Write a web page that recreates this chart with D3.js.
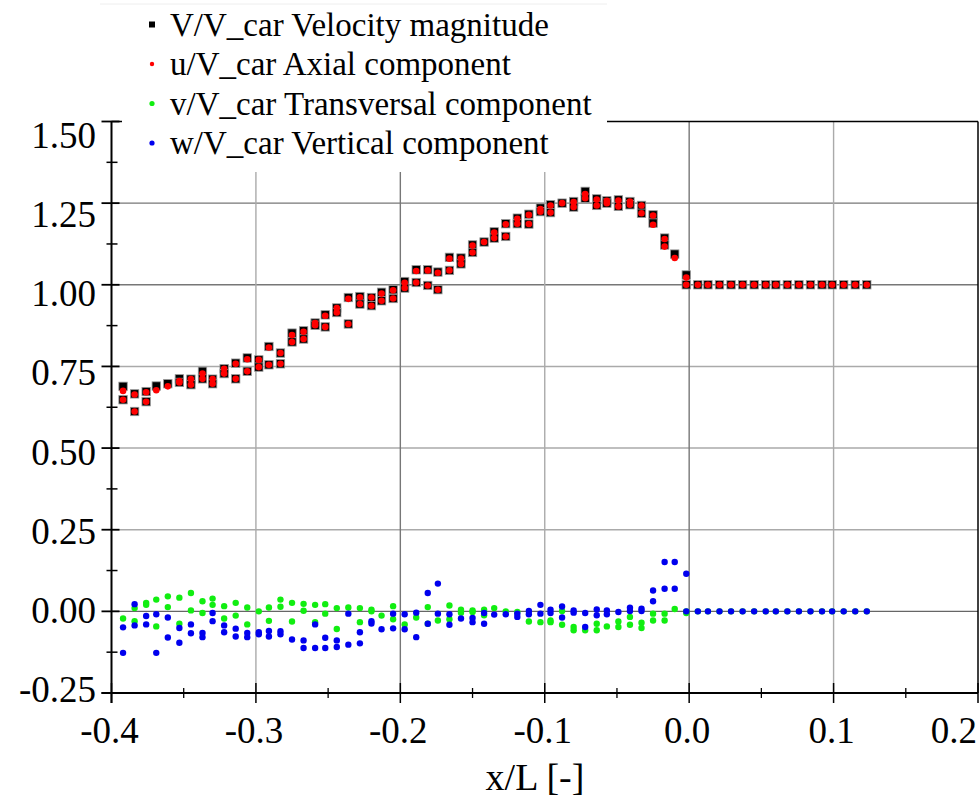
<!DOCTYPE html>
<html>
<head>
<meta charset="utf-8">
<script src="https://cdn.jsdelivr.net/npm/d3@7"></script>
<style>
	body { margin: 0; background: #fff; }
	svg { display: block; font-family: "Liberation Serif", "DejaVu Serif", serif; }
</style>
</head>
<body>
<div id="chart"></div>
<script>
// x/L positions of the probe columns
const xPos = [
	-0.392, -0.384, -0.376, -0.369, -0.361, -0.353, -0.345, -0.337, -0.330, -0.322,
	-0.314, -0.306, -0.298, -0.291, -0.283, -0.275, -0.267, -0.259, -0.252, -0.244,
	-0.236, -0.228, -0.220, -0.213, -0.205, -0.197, -0.189, -0.181, -0.174, -0.166,
	-0.158, -0.150, -0.142, -0.135, -0.127, -0.119, -0.111, -0.103, -0.096, -0.088,
	-0.080, -0.072, -0.064, -0.057, -0.049, -0.041, -0.033, -0.025, -0.017, -0.010,
	-0.002, 0.006, 0.013, 0.021, 0.029, 0.037, 0.045, 0.053, 0.060, 0.068,
	0.076, 0.084, 0.092, 0.099, 0.107, 0.115, 0.123
];

// V/V_car, two probe rows
const magA = [
	0.689, 0.666, 0.673, 0.690, 0.697, 0.712, 0.711, 0.735, 0.711, 0.743,
	0.760, 0.776, 0.770, 0.811, 0.791, 0.852, 0.859, 0.883, 0.908, 0.929,
	0.961, 0.964, 0.961, 0.977, 0.985, 1.010, 1.046, 1.046, 1.039, 1.084,
	1.082, 1.122, 1.131, 1.162, 1.187, 1.204, 1.216, 1.235, 1.245, 1.250,
	1.255, 1.286, 1.263, 1.257, 1.260, 1.255, 1.243, 1.214, 1.143, 1.094,
	1.030, 1.000, 1.000, 1.000, 1.000, 1.000, 1.000, 1.000, 1.000, 1.000,
	1.000, 1.000, 1.000, 1.000, 1.000, 1.000, 1.000
];
const magB = [
	0.648, 0.612, 0.642, null, null, 0.701, 0.694, 0.712, 0.697, 0.728,
	0.712, 0.735, 0.748, 0.755, 0.758, 0.825, 0.834, 0.876, 0.871, 0.915,
	0.880, 0.941, 0.936, 0.951, 0.958, 0.990, 1.007, 0.998, 0.985, 1.044,
	1.064, 1.099, null, 1.143, 1.148, 1.187, 1.186, 1.224, 1.221, null,
	1.238, 1.265, 1.243, 1.250, 1.240, 1.245, 1.219, 1.189, 1.122, null,
	1.000, null, null, null, null, null, null, null, null, null,
	null, null, null, null, null, null, null
];

// u/V_car axial component
const axA = [
	0.675, 0.664, 0.671, 0.677, 0.689, 0.705, 0.711, 0.728, 0.711, 0.743,
	0.758, 0.772, 0.770, 0.808, 0.791, 0.846, 0.856, 0.883, 0.905, 0.929,
	0.957, 0.962, 0.961, 0.973, 0.983, 1.006, 1.042, 1.044, 1.037, 1.080,
	1.080, 1.120, 1.131, 1.160, 1.185, 1.202, 1.214, 1.232, 1.243, 1.250,
	1.253, 1.278, 1.261, 1.257, 1.258, 1.255, 1.243, 1.212, 1.140, 1.082,
	1.022, 1.000, 1.000, 1.000, 1.000, 1.000, 1.000, 1.000, 1.000, 1.000,
	1.000, 1.000, 1.000, 1.000, 1.000, 1.000, 1.000
];
const axB = [
	0.648, 0.612, 0.642, null, null, 0.701, 0.694, 0.712, 0.697, 0.728,
	0.712, 0.735, 0.748, 0.755, 0.758, 0.825, 0.834, 0.876, 0.871, 0.915,
	0.880, 0.941, 0.936, 0.951, 0.958, 0.990, 1.007, 0.998, 0.985, 1.044,
	1.064, 1.099, null, 1.143, 1.148, 1.187, 1.186, 1.224, 1.221, null,
	1.238, 1.265, 1.243, 1.250, 1.240, 1.245, 1.219, 1.184, 1.117, null,
	1.000, null, null, null, null, null, null, null, null, null,
	null, null, null, null, null, null, null
];

// v/V_car transversal component
const transA = [
	-0.022, 0.010, 0.026, 0.036, 0.046, 0.042, 0.056, 0.031, 0.039, 0.016,
	0.026, 0.012, 0.000, 0.012, 0.036, 0.026, 0.023, 0.020, 0.022, 0.010,
	0.012, 0.010, 0.005, -0.013, 0.016, -0.040, -0.019, 0.013, -0.028, 0.018,
	0.005, 0.003, 0.005, 0.010, 0.000, -0.002, -0.031, -0.033, -0.028, 0.001,
	-0.048, -0.058, -0.038, -0.046, -0.031, -0.017, -0.035, -0.007, -0.007, 0.007,
	-0.005, 0.000, 0.000, 0.000, 0.000, 0.000, 0.000, 0.000, 0.000, 0.000,
	0.000, 0.000, 0.000, 0.000, 0.000, 0.000, 0.000
];
const transB = [
	null, -0.030, 0.020, -0.046, 0.013, -0.038, 0.003, -0.005, 0.020, -0.022,
	-0.013, -0.040, null, -0.029, 0.014, -0.031, 0.002, -0.033, -0.007, -0.054,
	null, -0.033, 0.000, null, -0.024, null, null, -0.038, null, -0.024,
	-0.004, -0.002, -0.012, null, null, null, null, null, -0.033, -0.041,
	-0.058, null, -0.058, null, -0.048, -0.041, -0.051, -0.028, -0.028, null,
	0.000, null, null, null, null, null, null, null, null, null,
	null, null, null, null, null, null, null
];

// w/V_car vertical component
const vertA = [
	-0.049, 0.022, -0.014, -0.009, -0.019, -0.051, -0.040, -0.066, -0.005, -0.043,
	-0.053, -0.066, -0.064, -0.060, -0.061, -0.086, -0.089, -0.040, -0.081, -0.089,
	-0.007, -0.064, -0.030, -0.055, -0.007, -0.009, -0.004, 0.056, 0.085, -0.009,
	-0.022, -0.020, -0.005, -0.010, -0.009, -0.007, 0.001, 0.020, 0.005, 0.015,
	0.003, -0.005, 0.006, 0.003, -0.002, 0.011, 0.008, 0.064, 0.151, 0.151,
	0.115, 0.000, 0.000, 0.000, 0.000, 0.000, 0.000, 0.000, 0.000, 0.000,
	0.000, 0.000, 0.000, 0.000, 0.000, 0.000, 0.000
];
const vertB = [
	-0.127, -0.043, -0.040, -0.127, -0.080, -0.096, -0.067, -0.079, -0.030, -0.064,
	-0.077, -0.079, -0.070, -0.077, -0.070, null, -0.112, -0.112, -0.112, -0.109,
	-0.102, -0.098, -0.037, null, -0.052, -0.055, -0.079, -0.038, -0.007, -0.041,
	null, -0.033, -0.038, null, null, -0.017, -0.009, -0.007, -0.005, -0.019,
	-0.004, -0.048, -0.012, -0.009, null, 0.001, 0.001, 0.031, 0.069, 0.069,
	0.000, null, null, null, null, null, null, null, null, null,
	null, null, null, null, null, null, null
];

// axis ticks and legend text
const xTicks = [-0.4, -0.3, -0.2, -0.1, 0.0, 0.1, 0.2];
const yTicks = [1.50, 1.25, 1.00, 0.75, 0.50, 0.25, 0.00, -0.25];
const legendLabels = [
	"V/V_car Velocity magnitude",
	"u/V_car Axial component",
	"v/V_car Transversal component",
	"w/V_car Vertical component"
];

const width = 980, height = 800;

// plain hyphen for negative labels, like the original
const locale = d3.formatLocale({ decimal: ".", thousands: ",", grouping: [3], currency: ["", ""], minus: "-" });

const svg = d3.select("#chart").append("svg")
	.attr("width", width)
	.attr("height", height);

// scales
const x = d3.scaleLinear().domain([-0.4, 0.2]).range([111.5, 978]);
const y = d3.scaleLinear().domain([-0.25, 1.5]).range([693, 121.5]);
// the y labels sit a little off their ticks in the original
const yLabel = d3.scaleLinear().domain([1.5, -0.25]).range([136, 690]);

// points from two probe rows
function points(rowA, rowB) {
	const pts = [];
	xPos.forEach((xv, i) => {
		if (rowA[i] != null) pts.push({ x: xv, v: rowA[i] });
		if (rowB[i] != null) pts.push({ x: xv, v: rowB[i] });
	});
	return pts;
}

// grid
const grid = svg.append("g");
grid.selectAll(".hgrid")
	.data(yTicks.filter(d => d > -0.25 && d < 1.5))
	.enter().append("line")
	.attr("x1", x(-0.4)).attr("x2", x(0.2))
	.attr("y1", d => y(d)).attr("y2", d => y(d))
	.attr("stroke", d => d === 0 ? "#666" : (d >= 1 ? "#777" : "#aaa"))
	.attr("stroke-width", 1.4);
grid.selectAll(".vgrid")
	.data(xTicks.filter(d => d > -0.4 && d < 0.2))
	.enter().append("line")
	.attr("x1", d => x(d)).attr("x2", d => x(d))
	.attr("y1", y(1.5)).attr("y2", y(-0.25))
	.attr("stroke", d => (d === -0.2 || d === 0) ? "#777" : "#aaa")
	.attr("stroke-width", 1.4);

// frame top + right
svg.append("line")
	.attr("x1", x(-0.4)).attr("x2", x(0.2))
	.attr("y1", y(1.5)).attr("y2", y(1.5))
	.attr("stroke", "#000").attr("stroke-width", 1.5);
svg.append("line")
	.attr("x1", x(0.2)).attr("x2", x(0.2))
	.attr("y1", y(1.5)).attr("y2", y(-0.25))
	.attr("stroke", "#000").attr("stroke-width", 1.5);

// data
const plot = svg.append("g");
plot.selectAll(".mag")
	.data(points(magA, magB))
	.enter().append("rect")
	.attr("x", d => x(d.x) - 4.2)
	.attr("y", d => y(d.v) - 4.2)
	.attr("width", 8.4).attr("height", 8.4)
	.attr("fill", "#000")
	.attr("stroke", "#999").attr("stroke-width", 0.8);
plot.selectAll(".ax")
	.data(points(axA, axB))
	.enter().append("circle")
	.attr("cx", d => x(d.x)).attr("cy", d => y(d.v))
	.attr("r", 3.3)
	.attr("fill", "#ff0000");
plot.selectAll(".trans")
	.data(points(transA, transB))
	.enter().append("circle")
	.attr("cx", d => x(d.x)).attr("cy", d => y(d.v))
	.attr("r", 3.2)
	.attr("fill", "#11ee11");
plot.selectAll(".vert")
	.data(points(vertA, vertB))
	.enter().append("circle")
	.attr("cx", d => x(d.x)).attr("cy", d => y(d.v))
	.attr("r", 3.2)
	.attr("fill", "#0000ee");

// legend box covers the top left of the frame
const legend = svg.append("g");
legend.append("rect")
	.attr("x", 122).attr("y", 0)
	.attr("width", 485).attr("height", 172)
	.attr("fill", "#fff");
legend.append("line")
	.attr("x1", 100).attr("x2", 607)
	.attr("y1", 4).attr("y2", 4)
	.attr("stroke", "#eee");

const legendColors = ["#000", "#ff0000", "#11ee11", "#0000ee"];
const rows = legend.selectAll(".row")
	.data(legendLabels)
	.enter().append("g")
	.attr("transform", (d, i) => "translate(152," + (24.5 + i * 39.5) + ")");
rows.each(function(d, i) {
	const g = d3.select(this);
	if (i === 0) {
		g.append("rect").attr("x", -3).attr("y", -3).attr("width", 6).attr("height", 6).attr("fill", "#000");
	} else {
		g.append("circle").attr("r", i === 1 ? 2.2 : 2.6).attr("fill", legendColors[i]);
	}
});
rows.append("text")
	.attr("x", 18).attr("y", 11)
	.attr("font-size", 33)
	.attr("fill", "#000")
	.text(d => d);

// y axis with crossing ticks
const axes = svg.append("g").attr("stroke", "#000");
axes.append("line")
	.attr("x1", x(-0.4)).attr("x2", x(-0.4))
	.attr("y1", y(1.5)).attr("y2", y(-0.25) + 10)
	.attr("stroke-width", 2);
axes.selectAll(".ymajor")
	.data(yTicks)
	.enter().append("line")
	.attr("x1", x(-0.4) - 10).attr("x2", x(-0.4) + 8)
	.attr("y1", d => y(d)).attr("y2", d => y(d))
	.attr("stroke-width", 1.8);
axes.selectAll(".yminor")
	.data(yTicks.slice(1).map(d => d + 0.125))
	.enter().append("line")
	.attr("x1", x(-0.4) - 5).attr("x2", x(-0.4) + 6)
	.attr("y1", d => y(d)).attr("y2", d => y(d))
	.attr("stroke-width", 1.5);

// x axis
axes.append("line")
	.attr("x1", x(-0.4) - 10).attr("x2", x(0.2))
	.attr("y1", y(-0.25)).attr("y2", y(-0.25))
	.attr("stroke-width", 2);
axes.selectAll(".xmajor")
	.data(xTicks)
	.enter().append("line")
	.attr("x1", d => x(d)).attr("x2", d => x(d))
	.attr("y1", y(-0.25) - 10).attr("y2", y(-0.25) + 10)
	.attr("stroke-width", 1.5);
axes.selectAll(".xminor")
	.data(xTicks.slice(0, -1).map(d => d + 0.05))
	.enter().append("line")
	.attr("x1", d => x(d)).attr("x2", d => x(d))
	.attr("y1", y(-0.25) - 5).attr("y2", y(-0.25) + 5)
	.attr("stroke-width", 1.3);

// tick labels
svg.selectAll(".ylab")
	.data(yTicks)
	.enter().append("text")
	.attr("x", 96)
	.attr("y", d => yLabel(d) + 12)
	.attr("text-anchor", "end")
	.attr("font-size", 37)
	.text(d => locale.format(".2f")(d));
// last label is pushed in so it stays inside the picture
svg.selectAll(".xlab")
	.data(xTicks)
	.enter().append("text")
	.attr("x", d => d === 0.2 ? 977 : x(d) - 2)
	.attr("y", 743)
	.attr("text-anchor", d => d === 0.2 ? "end" : "middle")
	.attr("font-size", 37)
	.text(d => locale.format(".1f")(d));

svg.append("text")
	.attr("x", 535).attr("y", 790)
	.attr("text-anchor", "middle")
	.attr("font-size", 38)
	.text("x/L [-]");
</script>
</body>
</html>
